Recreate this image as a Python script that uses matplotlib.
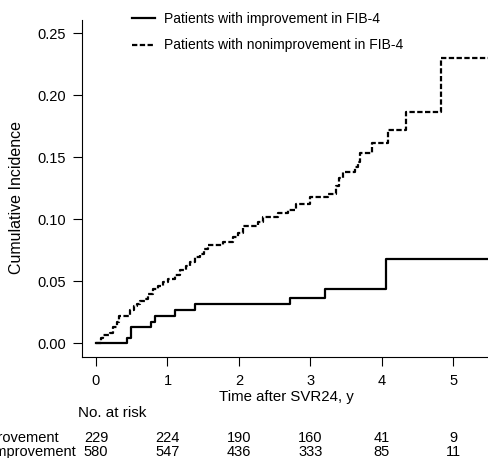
"""
Cumulative incidence by FIB-4 change after SVR24.
"""

import matplotlib.pyplot as plt
from matplotlib.transforms import blended_transform_factory

# step curve for patients with improvement in FIB-4
improved_times = [0, 0.44, 0.49, 0.765, 0.825, 1.11, 1.39, 2.71, 3.20, 4.06, 5.6]
improved_cuminc = [0, 0.0043, 0.0130, 0.0174, 0.0218, 0.0268, 0.0313, 0.0366,
                   0.0435, 0.0683, 0.0683]

# step curve for patients with nonimprovement in FIB-4
nonimproved_times = [0, 0.07, 0.10, 0.19, 0.24, 0.29, 0.32, 0.475, 0.535, 0.57,
                     0.615, 0.685, 0.73, 0.80, 0.87, 0.94, 1.01, 1.10, 1.17,
                     1.26, 1.31, 1.38, 1.45, 1.51, 1.57, 1.78, 1.92, 1.99, 2.06,
                     2.26, 2.34, 2.55, 2.69, 2.80, 2.99, 3.25, 3.36, 3.40, 3.45,
                     3.62, 3.66, 3.69, 3.86, 4.08, 4.33, 4.83, 5.6]
nonimproved_cuminc = [0, 0.004, 0.0067, 0.008, 0.0134, 0.0174, 0.022, 0.027,
                      0.030, 0.032, 0.034, 0.036, 0.0395, 0.0435, 0.046, 0.0494,
                      0.052, 0.0554, 0.0589, 0.062, 0.0656, 0.0696, 0.0723,
                      0.0763, 0.079, 0.0817, 0.0857, 0.0885, 0.0944, 0.0975,
                      0.102, 0.1046, 0.107, 0.112, 0.1175, 0.120, 0.127, 0.133,
                      0.138, 0.142, 0.146, 0.1535, 0.1615, 0.172, 0.1865, 0.2296,
                      0.2296]

# number-at-risk table
risk_years = [0, 1, 2, 3, 4, 5]
risk_improved = [229, 224, 190, 160, 41, 9]
risk_nonimproved = [580, 547, 436, 333, 85, 11]

y_ticks = [0.00, 0.05, 0.10, 0.15, 0.20, 0.25]

plt.rcParams["font.family"] = ["Liberation Sans", "DejaVu Sans"]

fig = plt.figure(figsize=(4.88, 4.58), dpi=100)
ax = fig.add_axes([0.1674, 0.2212, 0.8498, 0.7352])

ax.step(improved_times, improved_cuminc, where="post",
        color="black", linewidth=1.6,
        label="Patients with improvement in FIB-4")
ax.step(nonimproved_times, nonimproved_cuminc, where="post",
        color="black", linewidth=1.6, linestyle=(0, (2.4, 1.1)),
        label="Patients with nonimprovement in FIB-4")

ax.set_xlim(-0.2, 5.6)
ax.set_ylim(-0.0108, 0.2605)
ax.set_xticks(risk_years)
ax.set_yticks(y_ticks)
ax.set_yticklabels([f"{v:.2f}" for v in y_ticks])

ax.spines["top"].set_visible(False)
ax.spines["right"].set_visible(False)
ax.tick_params(axis="both", direction="out", length=6.5, width=0.8,
               labelsize=10.5)
ax.tick_params(axis="x", pad=6)
ax.tick_params(axis="y", pad=5)

ax.set_xlabel("Time after SVR24, y", fontsize=10.8)
ax.xaxis.set_label_coords(0.494, -0.1)
ax.set_ylabel("Cumulative Incidence", fontsize=11.5)
ax.yaxis.set_label_coords(-0.14, 0.474)

fig.legend(
    loc="upper left",
    bbox_to_anchor=(0.27, 0.974),
    frameon=False,
    fontsize=10,
    handlelength=1.7,
    handletextpad=0.6,
    labelspacing=0.9,
    borderpad=0,
    borderaxespad=0,
)

# risk table below the axis, columns under the x ticks
trans = blended_transform_factory(ax.transData, fig.transFigure)
fig.text(0.16, 0.098, "No. at risk", fontsize=11, va="center")
fig.text(59 / 488, 0.0437, "Improvement", fontsize=10.5,
         va="center", ha="right")
fig.text(77 / 488, 0.0131, "Nonimprovement", fontsize=10.5,
         va="center", ha="right")
for year, n1, n2 in zip(risk_years, risk_improved, risk_nonimproved):
    ax.text(year, 0.0437, str(n1), transform=trans, fontsize=10.5,
            ha="center", va="center")
    ax.text(year, 0.0131, str(n2), transform=trans, fontsize=10.5,
            ha="center", va="center")

fig.savefig("out.png", dpi=100)
